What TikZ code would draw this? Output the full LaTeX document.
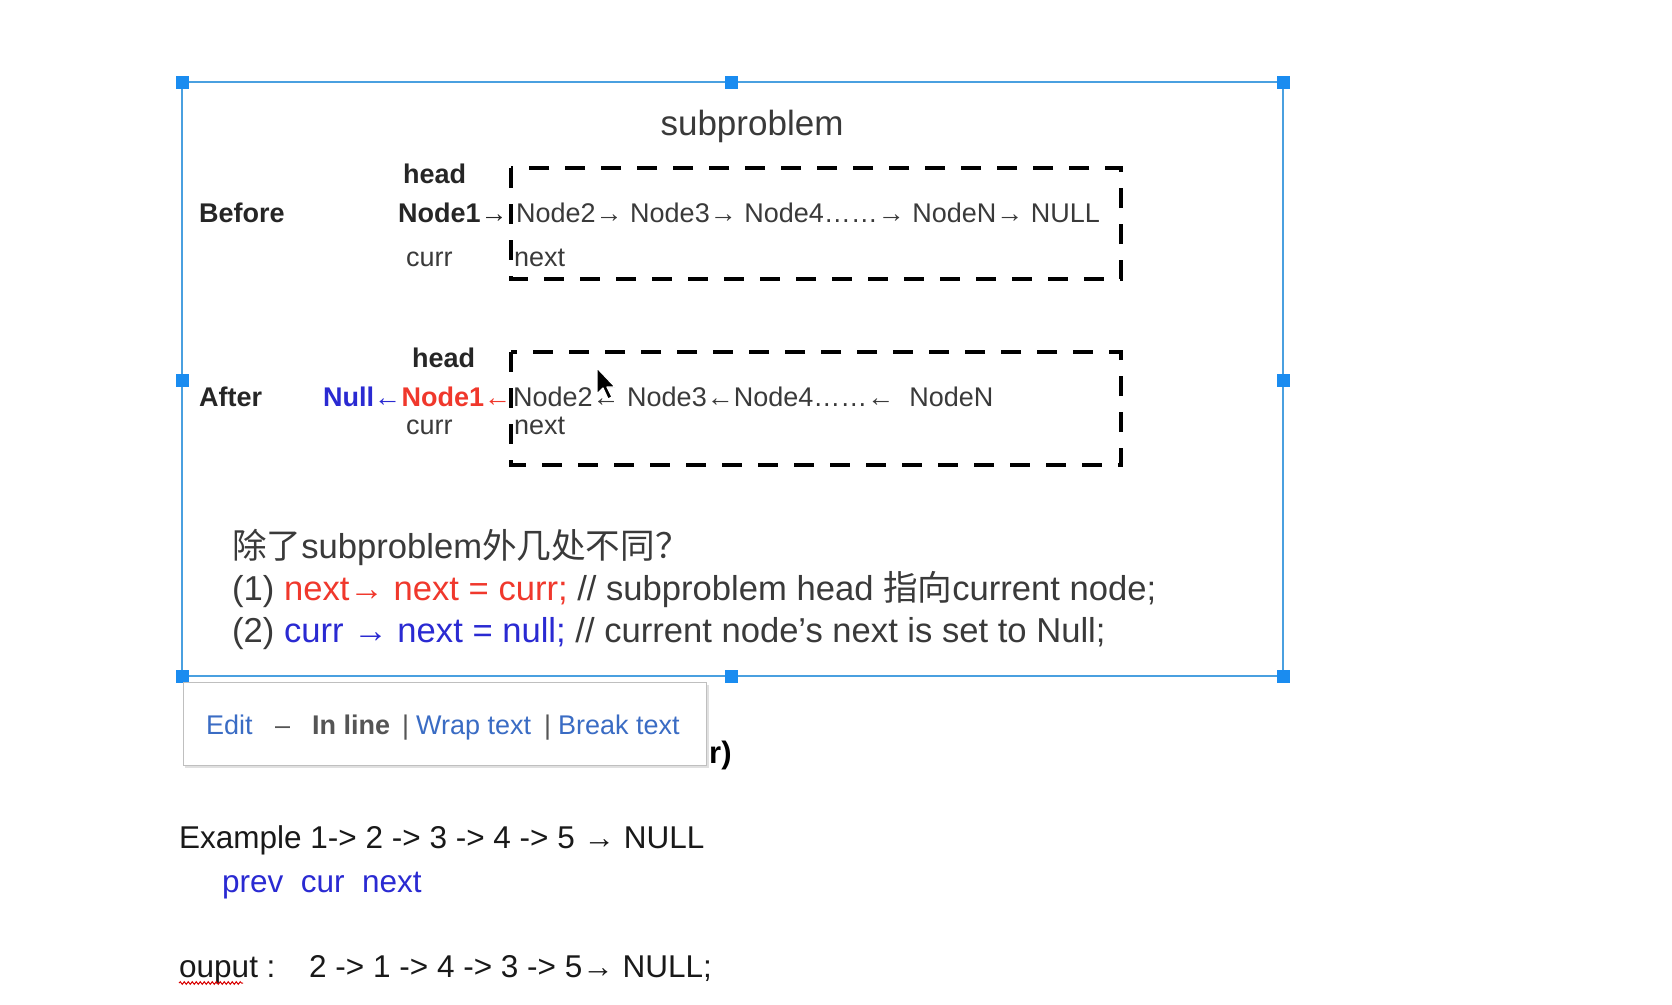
\documentclass[tikz,border=0pt]{standalone}
\usepackage{fontspec}
\setmainfont{Liberation Sans}
\newfontfamily\cjk{Noto Sans CJK SC}
\usetikzlibrary{decorations.pathmorphing}
\definecolor{selblue}{HTML}{4AA0E0}
\definecolor{handleblue}{HTML}{1A8CF0}
\definecolor{txtred}{HTML}{F0382C}
\definecolor{txtblue}{HTML}{2A2AD2}
\definecolor{linkblue}{HTML}{3A6CC4}
\definecolor{dgray}{HTML}{3A3A3A}
\definecolor{mgray}{HTML}{555555}
\begin{document}
\begin{tikzpicture}[x=1pt,y=-1pt,
  t/.style={inner sep=0pt, anchor=base west},
  f27/.style={font=\fontsize{27}{32}\selectfont},
  f27b/.style={font=\fontsize{27}{32}\selectfont\bfseries},
  f34/.style={font=\fontsize{34.6}{40}\selectfont},
  f31/.style={font=\fontsize{31.5}{37}\selectfont},
  handle/.style={fill=handleblue, minimum size=13pt, inner sep=0pt},
  dbox/.style={line width=4pt, dash pattern=on 20pt off 16pt},
]
\useasboundingbox[fill=white] (0,0) rectangle (1672,1004);

% selection frame
\draw[selblue, line width=1.6pt] (182,82) rectangle (1283,676);
\foreach \n/\x/\y in {a/182/82,b/731/82,c/1283/82,d/182/380,e/1283/380,f/182/676,g/731/676,h/1283/676}
  \node[handle] (h\n) at (\x,\y) {};

% title
\node[inner sep=0pt, font=\fontsize{35}{40}\selectfont, text=dgray] (title) at (752,126) {subproblem};

% Before row
\node[t, f27b, text=black!85] (before) at (199,222) {Before};
\node[t, f27b, text=black!85] (head1) at (403,183) {head};
\node[t, f27, text=black!85] (n1) at (398,222) {\bfseries Node1\mdseries→};
\node[t, f27, text=dgray] (curr1) at (406,266) {curr};
\draw[dbox] (511,168) rectangle (1121,279);
\node[t, f27, text=dgray] (list1) at (516,222) {Node2→ Node3→ Node4……→ NodeN→ NULL};
\node[t, f27, text=dgray] (next1) at (514,266) {next};

% After row
\node[t, f27b, text=black!85] (after) at (199,406) {After};
\node[t, f27b, text=black!85] (head2) at (412,367) {head};
\node[t, f27, text=txtblue] (null2) at (323,406) {\bfseries Null\mdseries←};
\node[t, f27, text=txtred, anchor=base west] (n2) at (null2.base east) {\bfseries Node1\mdseries←};
\node[t, f27, text=dgray] (curr2) at (406,434) {curr};
\draw[dbox] (511,352) rectangle (1121,465);
\node[t, f27, text=dgray] (list2) at (513,406) {Node2← Node3←Node4……←\ \ NodeN};
\node[t, f27, text=dgray] (next2) at (514,434) {next};

% mouse cursor
\draw[fill=black, draw=white, line width=1.2pt, line join=round, shift={(597,368)}]
  (0,0) -- (0,26) -- (6,20) -- (11,31) -- (15,29) -- (10,19) -- (18,19) -- cycle;

% explanation
\node[t, f34, text=dgray] (q) at (232,558) {{\cjk 除了}subproblem{\cjk 外几处不同？}};
\node[t, f34, text=dgray] (l1) at (232,600) {(1) \textcolor{txtred}{next→ next = curr;} // subproblem head {\cjk 指向}current node;};
\node[t, f34, text=dgray] (l2) at (232,642) {(2) \textcolor{txtblue}{curr → next = null;} // current node’s next is set to Null;};

% text behind popup
\node[t, font=\fontsize{31}{37}\selectfont\bfseries, text=black] (hid) at (709,763) {r)};

% popup
\fill[black!12] (185,685) rectangle (709,768);
\draw[black!25, fill=white, line width=0.8pt] (183,682) rectangle (706,765);
\node[t, f27, text=linkblue] (edit) at (206,734) {Edit};
\node[t, f27, text=mgray] (dash) at (275,734) {–};
\node[t, f27b, text=mgray] (inl) at (312,734) {In line};
\node[t, f27, text=mgray] (bar1) at (402,734) {|};
\node[t, f27, text=linkblue] (wrap) at (416,734) {Wrap text};
\node[t, f27, text=mgray] (bar2) at (544,734) {|};
\node[t, f27, text=linkblue] (brk) at (558,734) {Break text};

% example
\node[t, f31, text=black!90] (ex) at (179,848) {Example 1-> 2 -> 3 -> 4 -> 5 → NULL};
\node[t, f31, text=txtblue] (pcn) at (222,892) {prev\ \ cur\ \ next};
\node[t, f31, text=black!90] (outl) at (179,977) {ouput :};
\node[t, f31, text=black!90] (outv) at (309,977) {2 -> 1 -> 4 -> 3 -> 5→ NULL;};
\draw[red!85!black, line width=1pt, decorate, decoration={snake, amplitude=1.3pt, segment length=4pt}]
  (outl.base west) ++(0,6) -- ++(64,0);
\end{tikzpicture}
\end{document}
